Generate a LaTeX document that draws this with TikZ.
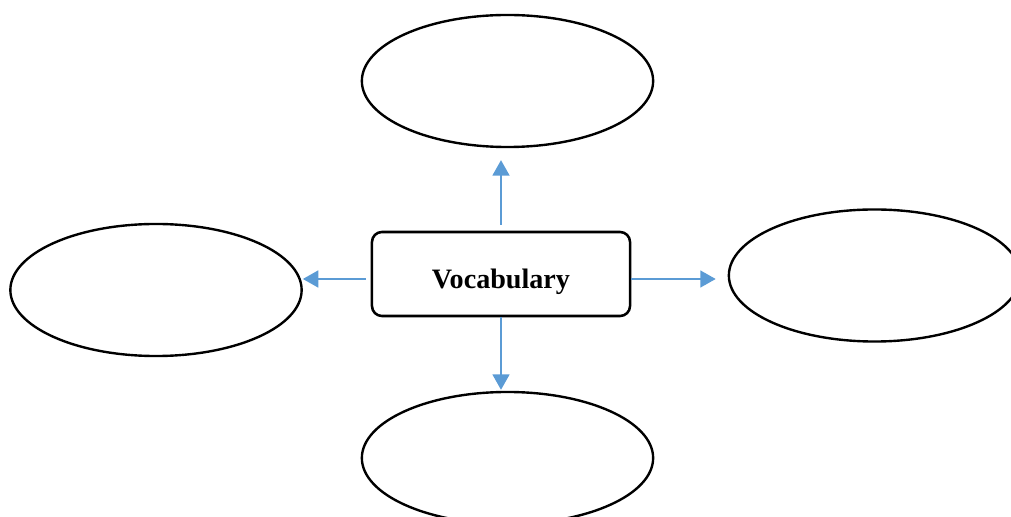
\documentclass[tikz,border=0pt]{standalone}
\usepackage{fontspec}
\setmainfont{Liberation Serif}
\usetikzlibrary{shapes.geometric,arrows.meta}
\definecolor{arrblue}{RGB}{91,155,213}
\tikzset{
  oval/.style={draw,ellipse,line width=1.7pt,minimum width=7.28cm,minimum height=3.3cm,inner sep=0pt},
  box/.style={draw,rounded corners=0.25cm,line width=1.8pt,minimum width=6.45cm,minimum height=2.1cm,
    font=\fontsize{20}{24}\selectfont\bfseries,text height=20pt,text depth=0pt},
  arr/.style={draw=arrblue,line width=1.5pt,-{Triangle[length=11pt,width=12pt]},arrblue}
}
\begin{document}
\begin{tikzpicture}[x=0.025cm,y=-0.025cm]
\clip (0,0) rectangle (1011,517);
\useasboundingbox (0,0) rectangle (1011,517);
\node[oval] (top) at (507.5,81) {};
\node[oval] (left) at (156,290) {};
\node[oval] (right) at (874.5,275.5) {};
\node[oval] (bot) at (507.5,458) {};
\node[box] (vocab) at (501,274) {Vocabulary};
\coordinate (mid) at (501,279);
\draw[arr,shorten <=4.2pt,shorten >=8.5pt] (vocab.north) -- (vocab.north |- top.south);
\draw[arr,shorten >=0.7pt] (vocab.south) -- (vocab.south |- bot.north);
\draw[arr,shorten <=3.5pt] (mid -| vocab.west) -- (mid -| left.east);
\draw[arr,shorten >=8.5pt] (mid -| vocab.east) -- (mid -| right.west);
\end{tikzpicture}
\end{document}
